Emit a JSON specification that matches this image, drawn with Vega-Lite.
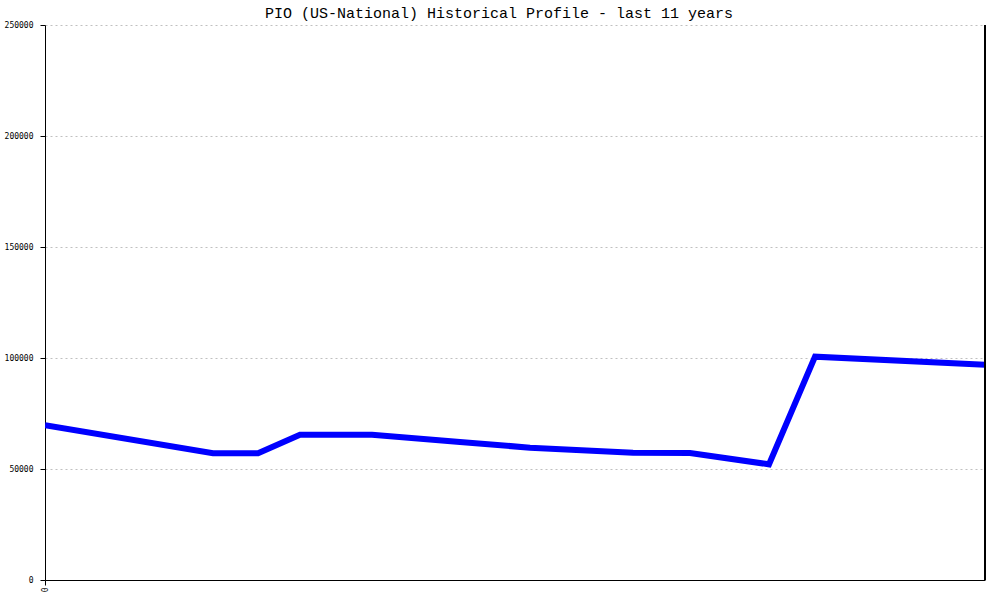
{
  "$schema": "https://vega.github.io/schema/vega-lite/v6.json",
  "autosize": "none",
  "width": 940,
  "height": 555,
  "padding": {"left": 45, "top": 25, "right": 15, "bottom": 20},
  "background": "white",
  "title": {
    "text": "PIO (US-National) Historical Profile - last 11 years",
    "font": "Liberation Mono",
    "fontSize": 15,
    "fontWeight": "normal",
    "color": "black",
    "anchor": "middle",
    "dx": -16,
    "offset": 0
  },
  "config": {
    "view": {"stroke": null},
    "axis": {
      "labelFont": "DejaVu Sans Mono",
      "labelFontSize": 8,
      "labelColor": "black",
      "domainColor": "black",
      "tickColor": "black",
      "title": null
    }
  },
  "data": {
    "values": [
      {"t": 0, "v": 69700},
      {"t": 1.966, "v": 57100},
      {"t": 2.493, "v": 57100},
      {"t": 2.984, "v": 65400},
      {"t": 3.827, "v": 65400},
      {"t": 4.856, "v": 62200},
      {"t": 5.676, "v": 59600},
      {"t": 6.881, "v": 57300},
      {"t": 7.548, "v": 57200},
      {"t": 8.472, "v": 52100},
      {"t": 9.011, "v": 100600},
      {"t": 11, "v": 97000}
    ]
  },
  "layer": [
    {
      "mark": {"type": "line", "color": "#0000ff", "strokeWidth": 6, "strokeCap": "butt", "strokeJoin": "miter", "clip": true},
      "encoding": {
        "x": {
          "field": "t",
          "type": "quantitative",
          "scale": {"domain": [0, 11], "nice": false, "zero": false},
          "axis": {"values": [0], "format": "d", "labelAngle": -90, "labelAlign": "right", "labelBaseline": "middle", "tickSize": 5, "labelPadding": 2, "grid": false}
        },
        "y": {
          "field": "v",
          "type": "quantitative",
          "scale": {"domain": [0, 250000], "nice": false},
          "axis": {"values": [0, 50000, 100000, 150000, 200000, 250000], "format": "d", "tickSize": 5, "labelPadding": 7, "grid": true, "gridColor": "#c0c0c0", "gridDash": [2, 3], "gridWidth": 1}
        }
      }
    },
    {
      "mark": {"type": "rule", "color": "black", "strokeWidth": 1},
      "encoding": {"x": {"datum": 11}}
    }
  ]
}
